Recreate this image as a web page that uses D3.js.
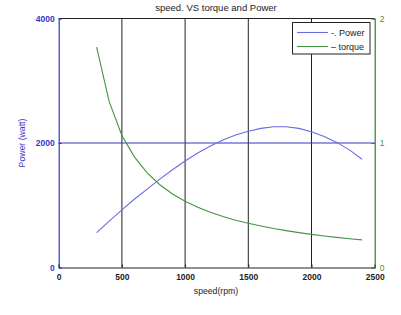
<!DOCTYPE html>
<html><head><meta charset="utf-8">
<script src="https://cdn.jsdelivr.net/npm/d3@7"></script>
<style>body{margin:0;background:#fff}svg{display:block}text{font-family:"Liberation Sans",Arial,sans-serif}</style>
</head><body>
<svg id="c" width="401" height="315"></svg>
<script>
const title = "speed. VS torque and Power";
const xLabel = "speed(rpm)";
const yLabel = "Power (watt)";
const speed = [300,400,500,600,700,800,900,1000,1100,1200,1300,1400,1500,1600,1700,1800,1900,2000,2100,2200,2300,2400];
const power = [560,745,925,1100,1260,1420,1570,1710,1840,1950,2050,2130,2190,2235,2260,2262,2235,2180,2105,2010,1890,1740];
const torque = [1.77,1.33,1.06,0.887,0.76,0.665,0.591,0.532,0.484,0.443,0.409,0.38,0.355,0.333,0.313,0.296,0.28,0.266,0.253,0.242,0.231,0.222];
const xTicks = [0,500,1000,1500,2000,2500];
const yTicks = [0,2000,4000];
const y2Ticks = [0,1,2];
const legendLabels = ["-. Power","\u2013 torque"];

const svg = d3.select("#c");
const L=58.7,R=374.7,T=18.5,B=267.5;
const x = d3.scaleLinear().domain([0,2500]).range([L,R]);
const y = d3.scaleLinear().domain([0,4000]).range([B,T]);
const y2 = d3.scaleLinear().domain([0,2]).range([B,T]);
const blue="#3535c8", pblue="#6b6be0", green="#449444", gaxis="#2e7d2e";

// vertical grid
svg.append("g").selectAll("line").data(xTicks.filter(d=>d>0&&d<2500)).join("line")
 .attr("x1",d=>x(d)).attr("x2",d=>x(d)).attr("y1",T).attr("y2",B)
 .attr("stroke","#222").attr("stroke-width",1);
// horizontal grid at 2000
svg.append("g").selectAll("line").data(yTicks.filter(d=>d>0&&d<4000)).join("line")
 .attr("x1",L).attr("x2",R).attr("y1",d=>y(d)).attr("y2",d=>y(d))
 .attr("stroke",blue).attr("stroke-width",1);
// top border
svg.append("line").attr("x1",L).attr("x2",R).attr("y1",T).attr("y2",T).attr("stroke","#222");

// bottom axis
const gx = svg.append("g").attr("transform",`translate(0,${B})`)
 .call(d3.axisBottom(x).tickValues(xTicks).tickSize(-3).tickPadding(5).tickFormat(d3.format("d")));
gx.select(".domain").attr("stroke","#222");
gx.selectAll(".tick line").attr("stroke","#222");
gx.selectAll("text").attr("font-size",8.5).attr("font-weight","bold").attr("fill","#222").attr("dy","0.9em");

// left axis
const gy = svg.append("g").attr("transform",`translate(${L},0)`)
 .call(d3.axisLeft(y).tickValues(yTicks).tickSize(-3).tickPadding(4).tickFormat(d3.format("d")));
gy.select(".domain").attr("stroke",blue).attr("stroke-width",1.2);
gy.selectAll(".tick line").attr("stroke",blue);
gy.selectAll("text").attr("font-size",8.5).attr("font-weight","bold").attr("fill",blue);

// right axis
const gy2 = svg.append("g").attr("transform",`translate(${R},0)`)
 .call(d3.axisRight(y2).tickValues(y2Ticks).tickSize(-3).tickPadding(5).tickFormat(d3.format("d")));
gy2.select(".domain").attr("stroke",gaxis).attr("stroke-width",1.2);
gy2.selectAll(".tick line").attr("stroke",gaxis);
gy2.selectAll("text").attr("font-size",8.5).attr("fill",green);

// lines
const lineP = d3.line().x((d,i)=>x(speed[i])).y(d=>y(d));
const lineT = d3.line().x((d,i)=>x(speed[i])).y(d=>y2(d));
svg.append("path").attr("d",lineP(power)).attr("fill","none").attr("stroke",pblue).attr("stroke-width",1.1);
svg.append("path").attr("d",lineT(torque)).attr("fill","none").attr("stroke",green).attr("stroke-width",1.1);

// title & labels
svg.append("text").attr("x",216).attr("y",11).attr("text-anchor","middle").attr("font-size",9.5).attr("fill","#222").text(title);
svg.append("text").attr("x",216).attr("y",294).attr("text-anchor","middle").attr("font-size",8.7).attr("fill","#222").text(xLabel);
svg.append("text").attr("transform",`translate(25,${(T+B)/2}) rotate(-90)`).attr("text-anchor","middle").attr("font-size",8.7).attr("fill",blue).text(yLabel);

// legend
const lg = svg.append("g");
lg.append("rect").attr("x",292.5).attr("y",22.5).attr("width",77.5).attr("height",31.5).attr("fill","#fff").attr("stroke","#222");
const lc=[pblue,green];
legendLabels.forEach((t,i)=>{
 const yy = 32.5 + i*14;
 lg.append("line").attr("x1",297).attr("x2",328).attr("y1",yy).attr("y2",yy).attr("stroke",lc[i]).attr("stroke-width",1.1);
 lg.append("text").attr("x",331).attr("y",yy+3).attr("font-size",9).attr("fill","#222").text(t);
});
</script>
</body></html>
